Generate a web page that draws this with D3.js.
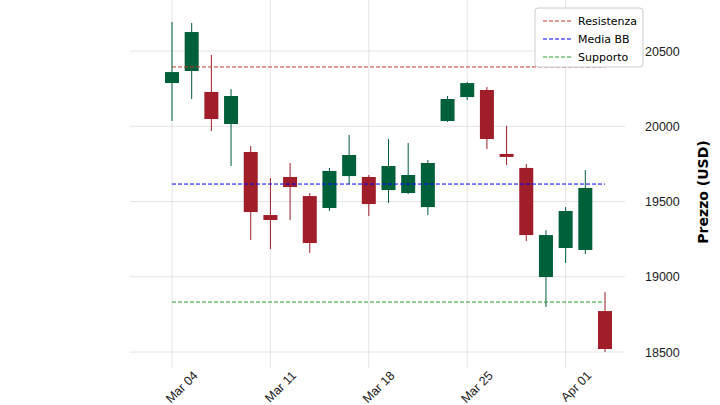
<!DOCTYPE html>
<html><head><meta charset="utf-8">
<script src="https://cdn.jsdelivr.net/npm/d3@7"></script>
<style>body{margin:0;background:#fff}svg{font-family:"DejaVu Sans",sans-serif}</style>
</head><body><svg id="c" width="720" height="405"></svg>
<script>
const dates=["Mar 04","Mar 05","Mar 06","Mar 07","Mar 08","Mar 11","Mar 12","Mar 13","Mar 14","Mar 15","Mar 18","Mar 19","Mar 20","Mar 21","Mar 22","Mar 25","Mar 26","Mar 27","Mar 28","Mar 29","Apr 01","Apr 02","Apr 03"];
const open_=[20287,20367,20228,20015,19829,19410,19663,19536,19457,19669,19663,19576,19556,19463,20035,20194,20241,19816,19723,18998,19191,19178,18772];
const close_=[20360,20626,20048,20201,19430,19377,19596,19224,19703,19809,19483,19736,19676,19756,20181,20287,19915,19796,19277,19277,19437,19590,18520];
const high_=[20693,20686,20473,20247,19869,19656,19756,19556,19723,19942,19676,19915,19889,19776,20201,20294,20261,20002,19749,19310,19463,19709,18899];
const low_=[20035,20181,19968,19736,19244,19184,19377,19158,19437,19616,19404,19490,19550,19410,20028,20174,19849,19742,19237,18799,19091,19151,18500];
const tickIdx=[0,5,10,15,20];
const yTicks=[18500,19000,19500,20000,20500];
const levels=[{name:"Resistenza",v:20394,c:"#c0392b"},{name:"Media BB",v:19616,c:"#0000ff"},{name:"Supporto",v:18832,c:"#2ca02c"}];
const svg=d3.select("#c");
const L=130,R=625,T=0,B=368;
const x=d3.scaleLinear().domain([0,22]).range([172,605]);
const y=d3.scaleLinear().domain([18500,20500]).range([352,51]);
const g=svg.append("g");
g.selectAll(".hg").data(yTicks).join("line").attr("x1",L).attr("x2",R).attr("y1",d=>y(d)).attr("y2",d=>y(d)).attr("stroke","#ddd").attr("stroke-width",0.8);
g.selectAll(".vg").data(tickIdx).join("line").attr("x1",d=>x(d)).attr("x2",d=>x(d)).attr("y1",T).attr("y2",B).attr("stroke","#ddd").attr("stroke-width",0.8);
const ya=svg.append("g").attr("transform",`translate(${R},0)`).call(d3.axisRight(y).tickValues(yTicks).tickSize(0).tickPadding(20).tickFormat(d3.format("d")));
ya.select(".domain").remove();ya.selectAll("text").attr("font-size",12.5).attr("fill","#222");
const xa=svg.append("g").attr("transform",`translate(0,${B})`).call(d3.axisBottom(x).tickValues(tickIdx).tickSize(0).tickFormat(i=>dates[i]));
xa.select(".domain").remove();
xa.selectAll("text").attr("font-size",12.5).attr("fill","#222").attr("text-anchor","end").attr("transform","rotate(-45)").attr("dx","1.0em").attr("dy","1.7em");
svg.append("text").attr("transform",`translate(708,${(T+B)/2+8}) rotate(-90)`).attr("text-anchor","middle").attr("font-size",14).attr("font-weight","bold").text("Prezzo (USD)");
const idx=d3.range(dates.length);
const col=i=>close_[i]>=open_[i]?"#00603a":"#a01e2a";
g.selectAll(".w").data(idx).join("line").attr("x1",i=>x(i)).attr("x2",i=>x(i)).attr("y1",i=>y(high_[i])).attr("y2",i=>y(low_[i])).attr("stroke",col).attr("stroke-width",1);
g.selectAll(".b").data(idx).join("rect").attr("x",i=>x(i)-7).attr("width",14)
 .attr("y",i=>y(Math.max(open_[i],close_[i]))).attr("height",i=>Math.max(1.5,Math.abs(y(open_[i])-y(close_[i])))).attr("fill",col);
g.selectAll(".lv").data(levels).join("line").attr("x1",x(0)).attr("x2",x(22)).attr("y1",d=>y(d.v)).attr("y2",d=>y(d.v)).attr("stroke",d=>d.c).attr("stroke-dasharray","4,2").attr("stroke-width",1);
const lg=svg.append("g").attr("transform","translate(535,8)");
lg.append("rect").attr("width",108).attr("height",59).attr("fill","#fff").attr("stroke","#ccc").attr("rx",3);
levels.forEach((d,i)=>{lg.append("line").attr("x1",8).attr("x2",36).attr("y1",13+i*18).attr("y2",13+i*18).attr("stroke",d.c).attr("stroke-dasharray","4,2");
lg.append("text").attr("x",43).attr("y",17+i*18).attr("font-size",11).text(d.name);});
</script></body></html>
